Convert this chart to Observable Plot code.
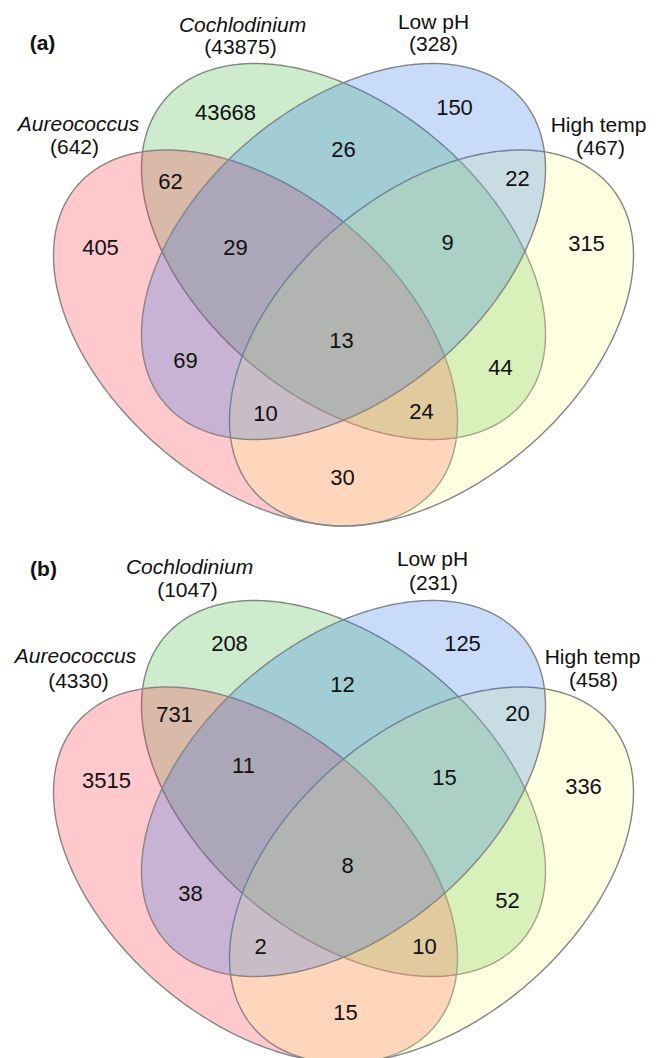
<!DOCTYPE html>
<html><head><meta charset="utf-8">
<script src="https://cdn.jsdelivr.net/npm/d3@7"></script>
<script src="https://cdn.jsdelivr.net/npm/@observablehq/plot@0.6"></script>
<style>
html,body{margin:0;padding:0;background:#fff;overflow:hidden;}
#chart svg{display:block;}
</style></head><body><div id="chart"></div>
<script>
// ---------- data ----------
const sets = ["Aureococcus", "Cochlodinium", "Low pH", "High temp"];
const setItalic = [true, true, false, false];
const totalsA = [642, 43875, 328, 467];
const totalsB = [4330, 1047, 231, 458];
const regions = ["A", "C", "P", "T", "AC", "CP", "PT", "AP", "CT", "AT", "ACP", "CPT", "APT", "ACT", "ACPT"];
const countsA = [405, 43668, 150, 315, 62, 26, 22, 69, 44, 30, 29, 9, 10, 24, 13];
const countsB = [3515, 208, 125, 336, 731, 12, 20, 38, 52, 15, 11, 15, 2, 10, 8];
const panelNames = ["(a)", "(b)"];

// ---------- layout / style ----------
const W = 660, H = 537;
const fillColors = ["#ff2337", "#37af37", "#2373eb", "#ffff87"];
const fillAlpha = 0.25;
const drawOrder = [1, 0, 3, 2];
const ellipseShape = {a: 234.5, b: 145.4, angle: 40.35};
const ellipseCenters = [[255, 337.5, 1], [343, 251, 1], [343, 251, -1], [431, 337.5, -1]];
const regionPosA = [[100,247],[225,112],[454,107],[586,243],[170,181],[343,149],[517,178],[185,360],[500,367],[342,477],[235,247],[447,242],[265,413],[421,411],[341,340]];
const regionPosB = [[106,243],[229,106],[462,106],[583,249],[174,177],[342,147],[517,176],[190,356],[507,363],[345,475],[243,228],[444,240],[260,409],[424,409],[347,328]];
const setPosA = [[[78,124],[74,147]], [[242,25],[240,47]], [[433,22],[433,44]], [[598,125],[600,148]]];
const setPosB = [[[75,119],[78,144]], [[189,30],[187,53]], [[432,22],[433,46]], [[592,120],[593,143]]];
const panelPos = [[42,43],[43,32]];

function ellipsePoints(i) {
  const [cx, cy, s] = ellipseCenters[i];
  const th = s * ellipseShape.angle * Math.PI / 180;
  const pts = [];
  for (let k = 0; k < 360; k++) {
    const t = k / 360 * 2 * Math.PI;
    const u = ellipseShape.a * Math.cos(t), v = ellipseShape.b * Math.sin(t);
    pts.push({x: cx + u * Math.cos(th) - v * Math.sin(th), y: cy + u * Math.sin(th) + v * Math.cos(th)});
  }
  return pts;
}

function panel(p, counts, totals, regionPos, setPos) {
  const marks = [];
  drawOrder.forEach(i => {
    marks.push(Plot.line(ellipsePoints(i), {
      x: "x", y: "y", curve: "linear-closed",
      fill: fillColors[i], fillOpacity: fillAlpha,
      stroke: "#858585", strokeWidth: 1.4
    }));
  });
  const idx = d3.range(regions.length);
  marks.push(Plot.text(idx, {
    x: i => regionPos[i][0], y: i => regionPos[i][1], text: i => String(counts[i]),
    fontSize: 22, fill: "#111", lineAnchor: "middle"
  }));
  const si = d3.range(sets.length);
  marks.push(Plot.text(si.filter(i => setItalic[i]), {
    x: i => setPos[i][0][0], y: i => setPos[i][0][1], text: i => sets[i],
    fontSize: 21, fontStyle: "italic", fill: "#111", lineAnchor: "middle"
  }));
  marks.push(Plot.text(si.filter(i => !setItalic[i]), {
    x: i => setPos[i][0][0], y: i => setPos[i][0][1], text: i => sets[i],
    fontSize: 21, fill: "#111", lineAnchor: "middle"
  }));
  marks.push(Plot.text(si, {
    x: i => setPos[i][1][0], y: i => setPos[i][1][1], text: i => `(${totals[i]})`,
    fontSize: 21, fill: "#111", lineAnchor: "middle"
  }));
  marks.push(Plot.text([panelNames[p]], {
    x: () => panelPos[p][0], y: () => panelPos[p][1], text: d => d,
    fontSize: 21, fontWeight: "bold", fill: "#111", lineAnchor: "middle"
  }));
  return Plot.plot({
    width: W, height: H, margin: 0,
    x: {domain: [0, W], range: [0, W], axis: null},
    y: {domain: [0, H], range: [0, H], axis: null},
    style: {fontFamily: "'Liberation Sans', Arial, sans-serif", background: "white", overflow: "visible"},
    marks
  });
}

const el = document.getElementById("chart");
el.appendChild(panel(0, countsA, totalsA, regionPosA, setPosA));
el.appendChild(panel(1, countsB, totalsB, regionPosB, setPosB));
</script></body></html>
